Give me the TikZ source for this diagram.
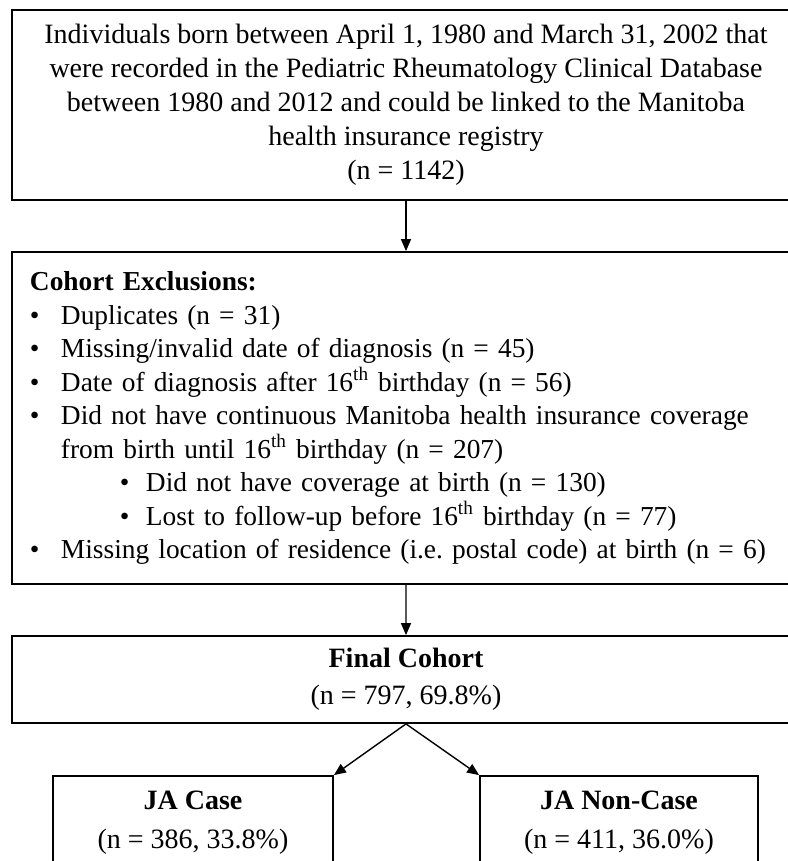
\documentclass[tikz,border=0pt]{standalone}
\usepackage{fontspec}
\setmainfont{Liberation Serif}
\usetikzlibrary{arrows.meta}
\frenchspacing
\newcommand{\excbullet}{\makebox[15.5pt][l]{\textbullet}}
\newcommand{\subbullet}{\hspace*{45pt}\makebox[13pt][l]{\textbullet}}

\begin{document}
\begin{tikzpicture}[
	font=\fontsize{14}{17}\selectfont,
	box/.style={draw, line width=0.9pt, minimum width=394pt, align=center, inner sep=0pt},
	casebox/.style={draw, line width=0.9pt, minimum height=47pt, align=center, inner sep=0pt, font=\fontsize{14}{19.5}\selectfont},
	edge from parent/.style={draw, line width=0.7pt, -{Triangle[length=6pt,width=5pt]}},
	parent anchor=south, child anchor=north]
\useasboundingbox (-203pt,52.5pt) rectangle (190.5pt,-378pt);
\node[box, minimum height=95pt] (start) {Individuals born between April 1, 1980 and March 31, 2002 that\\
	were recorded in the Pediatric Rheumatology Clinical Database\\
	between 1980 and 2012 and could be linked to the Manitoba\\
	health insurance registry\\
	(n = 1142)}
[level 1/.style={level distance=156.5pt}]
[level 2/.style={level distance=130.75pt}]
[level 3/.style={level distance=71.75pt, sibling distance=213pt}]
	child {node[box, minimum height=166pt, text width=376pt, align=left, font=\fontsize{13.7}{16.75}\selectfont] (excl) {\textbf{Cohort Exclusions:}\\
		\excbullet Duplicates (n = 31)\\
		\excbullet Missing/invalid date of diagnosis (n = 45)\\
		\excbullet Date of diagnosis after 16\textsuperscript{th} birthday (n = 56)\\
		\excbullet Did not have continuous Manitoba health insurance coverage\\
		\hspace*{15.5pt}from birth until 16\textsuperscript{th} birthday (n = 207)\\
		\subbullet Did not have coverage at birth (n = 130)\\
		\subbullet Lost to follow-up before 16\textsuperscript{th} birthday (n = 77)\\
		\excbullet Missing location of residence (i.e. postal code) at birth (n = 6)}
		child {node[box, minimum height=43.5pt, font=\fontsize{14}{18.5}\selectfont] (final) {\textbf{Final Cohort}\\(n = 797, 69.8\%)}
			child[child anchor=north east] {node[casebox, minimum width=140pt] (case) {\textbf{JA Case}\\(n = 386, 33.8\%)}}
			child[child anchor=north west] {node[casebox, minimum width=139pt] (noncase) {\textbf{JA Non-Case}\\(n = 411, 36.0\%)}}}};
\end{tikzpicture}
\end{document}
